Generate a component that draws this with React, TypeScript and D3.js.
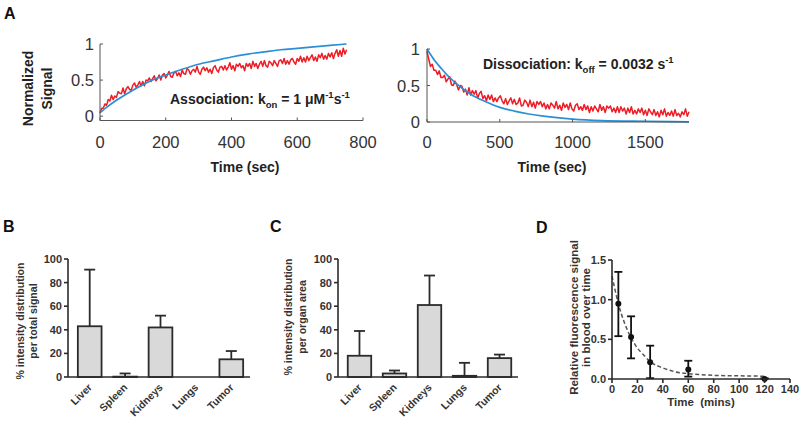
import React from "react";
import * as d3 from "d3";

const FONT = "'Liberation Sans', Arial, Helvetica, sans-serif";

// ---------- Panel A: association ----------
const assocTicksX = [0, 200, 400, 600, 800];
const assocTicksY = [0, 0.5, 1];
const assocStep = 5; // seconds between samples
const assocRed = [
  0.04, 0.11, 0.11, 0.17, 0.15,
  0.23, 0.21, 0.29, 0.23, 0.28,
  0.26, 0.34, 0.32, 0.31, 0.39,
  0.31, 0.38, 0.41, 0.37, 0.36,
  0.43, 0.46, 0.40, 0.43, 0.48,
  0.42, 0.48, 0.42, 0.50, 0.49,
  0.53, 0.48, 0.52, 0.56, 0.49,
  0.52, 0.57, 0.50, 0.57, 0.59,
  0.53, 0.57, 0.62, 0.55, 0.54,
  0.60, 0.62, 0.56, 0.60, 0.55,
  0.64, 0.59, 0.58, 0.66, 0.64,
  0.58, 0.63, 0.65, 0.61, 0.69,
  0.61, 0.58, 0.65, 0.68, 0.63,
  0.67, 0.61, 0.65, 0.59, 0.67,
  0.70, 0.64, 0.61, 0.68, 0.69,
  0.64, 0.70, 0.64, 0.68, 0.74,
  0.65, 0.70, 0.63, 0.72, 0.69,
  0.73, 0.67, 0.70, 0.63, 0.73,
  0.69, 0.73, 0.66, 0.76, 0.69,
  0.73, 0.66, 0.72, 0.76, 0.69,
  0.77, 0.70, 0.68, 0.76, 0.74,
  0.70, 0.77, 0.73, 0.69, 0.77,
  0.78, 0.73, 0.80, 0.72, 0.77,
  0.72, 0.78, 0.80, 0.75, 0.72,
  0.80, 0.76, 0.83, 0.75, 0.81,
  0.75, 0.83, 0.77, 0.81, 0.85,
  0.77, 0.82, 0.76, 0.85, 0.81,
  0.87, 0.79, 0.84, 0.79, 0.87,
  0.82, 0.88, 0.80, 0.87, 0.92,
  0.83, 0.91, 0.83, 0.94, 0.86,
  0.92,
];
const assocFit: [number, number][] = [
  [0, 0.05], [25, 0.14], [50, 0.22], [100, 0.36], [150, 0.48], [200, 0.57],
  [250, 0.65], [300, 0.72], [350, 0.77], [400, 0.82], [450, 0.86], [500, 0.89],
  [550, 0.92], [600, 0.94], [650, 0.96], [700, 0.98], [750, 1.0],
];

// ---------- Panel A: dissociation ----------
const dissocTicksX = [0, 500, 1000, 1500];
const dissocTicksY = [0, 0.5, 1];
const dissocStep = 12;
const dissocRed = [
  0.97, 0.86, 0.76, 0.79, 0.71,
  0.71, 0.65, 0.70, 0.61, 0.61,
  0.64, 0.55, 0.59, 0.62, 0.51,
  0.50, 0.56, 0.51, 0.44, 0.50,
  0.49, 0.41, 0.45, 0.37, 0.47,
  0.37, 0.43, 0.38, 0.43, 0.33,
  0.39, 0.42, 0.32, 0.36, 0.29,
  0.37, 0.31, 0.37, 0.28, 0.33,
  0.28, 0.33, 0.36, 0.29, 0.25,
  0.32, 0.24, 0.29, 0.33, 0.25,
  0.31, 0.24, 0.26, 0.33, 0.22,
  0.23, 0.30, 0.27, 0.21, 0.30,
  0.21, 0.27, 0.19, 0.28, 0.24,
  0.28, 0.21, 0.26, 0.18, 0.24,
  0.18, 0.26, 0.23, 0.19, 0.28,
  0.18, 0.23, 0.16, 0.26, 0.20,
  0.24, 0.17, 0.26, 0.18, 0.15,
  0.23, 0.25, 0.17, 0.21, 0.16,
  0.24, 0.17, 0.22, 0.13, 0.21,
  0.15, 0.22, 0.18, 0.14, 0.24,
  0.16, 0.21, 0.13, 0.22, 0.19,
  0.22, 0.14, 0.19, 0.13, 0.21,
  0.13, 0.21, 0.15, 0.19, 0.11,
  0.19, 0.13, 0.21, 0.11, 0.16,
  0.11, 0.18, 0.13, 0.19, 0.10,
  0.16, 0.09, 0.18, 0.14, 0.10,
  0.17, 0.09, 0.14, 0.07, 0.16,
  0.10, 0.18, 0.08, 0.13, 0.09,
  0.15, 0.08, 0.17, 0.09, 0.12,
  0.07, 0.14, 0.10, 0.18, 0.08,
  0.14,
];
const dissocFit: [number, number][] = [
  [0, 1.0], [50, 0.85], [100, 0.73], [150, 0.62], [200, 0.53], [300, 0.38],
  [400, 0.28], [500, 0.2], [600, 0.15], [700, 0.11], [800, 0.08], [1000, 0.04],
  [1200, 0.02], [1500, 0.01], [1800, 0.003],
];

// ---------- Panels B, C ----------
const organs = ["Liver", "Spleen", "Kidneys", "Lungs", "Tumor"];
const totalSignalMean = [43, 0.3, 42, 0, 15];
const totalSignalUpper = [91, 3, 52, 0, 22];
const organAreaMean = [18, 3, 61, 1, 16];
const organAreaUpper = [39, 5.5, 86, 12, 19];
const barTicks = [0, 20, 40, 60, 80, 100];

// ---------- Panel D ----------
const bloodTime = [5, 15, 30, 60, 120];
const bloodMean = [0.95, 0.53, 0.21, 0.12, 0.0];
const bloodLow = [0.54, 0.26, 0.01, 0.03, 0.0];
const bloodHigh = [1.35, 0.79, 0.42, 0.23, 0.01];
const bloodFit: [number, number][] = [
  [0, 1.3], [5, 0.95], [10, 0.7], [15, 0.52], [20, 0.39], [25, 0.3], [30, 0.22],
  [40, 0.14], [50, 0.09], [60, 0.068], [70, 0.055], [80, 0.046], [100, 0.04], [120, 0.035],
];
const bloodTicksX = [0, 20, 40, 60, 80, 100, 120, 140];
const bloodTicksY = [0, 0.5, 1.0, 1.5];

const RED = "#ee1c25";
const BLUE = "#2b8fd6";
const AX = "#555";
const TXT = "#333";

function KineticPanel(props: {
  xs: d3.ScaleLinear<number, number>;
  ys: d3.ScaleLinear<number, number>;
  xTicks: number[];
  yTicks: number[];
  red: number[];
  step: number;
  fit: [number, number][];
  yLabelX: number;
}) {
  const { xs, ys, xTicks, yTicks, red, step, fit, yLabelX } = props;
  const [x0, x1] = xs.range();
  const [yb, yt] = ys.range();
  const redLine = d3
    .line<number>()
    .x((_, i) => xs(i * step))
    .y((v) => ys(v));
  const fitLine = d3
    .line<[number, number]>()
    .x((d) => xs(d[0]))
    .y((d) => ys(d[1]))
    .curve(d3.curveMonotoneX);
  return (
    <g>
      <path d={redLine(red) || ""} fill="none" stroke={RED} strokeWidth={1.5} strokeLinejoin="round" />
      <path d={fitLine(fit) || ""} fill="none" stroke={BLUE} strokeWidth={1.7} />
      <line x1={x0} x2={x1} y1={yb} y2={yb} stroke={AX} strokeWidth={1} />
      <line x1={x0} x2={x0} y1={yb} y2={yt} stroke={AX} strokeWidth={1} />
      {xTicks.map((t) => (
        <g key={"x" + t}>
          <line x1={xs(t)} x2={xs(t)} y1={yb} y2={yb - 3} stroke={AX} />
          <text x={xs(t)} y={148} textAnchor="middle" fontSize={16.5} fill={TXT}>
            {t}
          </text>
        </g>
      ))}
      {yTicks.map((t) => (
        <g key={"y" + t}>
          <line x1={x0} x2={x0 + 3} y1={ys(t)} y2={ys(t)} stroke={AX} />
          <text x={yLabelX} y={ys(t) + 6} textAnchor="end" fontSize={16.5} fill={TXT}>
            {t}
          </text>
        </g>
      ))}
    </g>
  );
}

function BarPanel(props: {
  axisX: number;
  endX: number;
  means: number[];
  uppers: number[];
}) {
  const { axisX, endX, means, uppers } = props;
  const y = d3.scaleLinear([0, 100], [377, 259]);
  const x = d3
    .scaleBand<string>()
    .domain(organs)
    .range([axisX + 1, endX + 2])
    .paddingInner(0.33)
    .paddingOuter(0.25);
  const bw = x.bandwidth();
  return (
    <g>
      {organs.map((o, i) => {
        const cx = (x(o) as number) + bw / 2;
        const top = y(means[i]);
        const up = y(uppers[i]);
        return (
          <g key={o}>
            {uppers[i] > means[i] && (
              <g stroke="#2b2b2b" strokeWidth={1.8}>
                <line x1={cx} x2={cx} y1={top} y2={up} />
                <line x1={cx - 5.5} x2={cx + 5.5} y1={up} y2={up} />
              </g>
            )}
            <rect
              x={x(o)}
              y={top}
              width={bw}
              height={Math.max(0, y(0) - top)}
              fill="#d9d9d9"
              stroke="#2b2b2b"
              strokeWidth={1.8}
            />
            <text
              transform={`translate(${cx + 3},${388}) rotate(-45)`}
              textAnchor="end"
              fontSize={10.5}
              fontWeight="bold"
              fill={TXT}
            >
              {o}
            </text>
          </g>
        );
      })}
      <line x1={axisX} x2={endX} y1={y(0)} y2={y(0)} stroke="#2b2b2b" strokeWidth={1.6} />
      <line x1={axisX} x2={axisX} y1={y(0)} y2={y(100)} stroke="#2b2b2b" strokeWidth={1.6} />
      {barTicks.map((t) => (
        <g key={t}>
          <line x1={axisX - 4} x2={axisX} y1={y(t)} y2={y(t)} stroke="#2b2b2b" strokeWidth={1.6} />
          <text x={axisX - 6} y={y(t) + 4} textAnchor="end" fontSize={11} fontWeight="bold" fill={TXT}>
            {t}
          </text>
        </g>
      ))}
    </g>
  );
}

function BloodPanel() {
  const x = d3.scaleLinear([0, 140], [612, 790]);
  const y = d3.scaleLinear([0, 1.5], [379, 260]);
  const fitLine = d3
    .line<[number, number]>()
    .x((d) => x(d[0]))
    .y((d) => y(d[1]))
    .curve(d3.curveMonotoneX);
  return (
    <g>
      <path d={fitLine(bloodFit) || ""} fill="none" stroke="#555" strokeWidth={1.5} strokeDasharray="4,2.5" />
      {bloodTime.map((t, i) => (
        <g key={t} stroke="#111" strokeWidth={1.8}>
          <line x1={x(t)} x2={x(t)} y1={y(bloodLow[i])} y2={y(bloodHigh[i])} />
          <line x1={x(t) - 4} x2={x(t) + 4} y1={y(bloodLow[i])} y2={y(bloodLow[i])} />
          <line x1={x(t) - 4} x2={x(t) + 4} y1={y(bloodHigh[i])} y2={y(bloodHigh[i])} />
          <circle cx={x(t)} cy={y(bloodMean[i])} r={3} fill="#111" stroke="none" />
        </g>
      ))}
      <line x1={612} x2={790} y1={y(0)} y2={y(0)} stroke="#2b2b2b" strokeWidth={1.6} />
      <line x1={612} x2={612} y1={y(0)} y2={y(1.5)} stroke="#2b2b2b" strokeWidth={1.6} />
      {bloodTicksX.map((t) => (
        <g key={"x" + t}>
          <line x1={x(t)} x2={x(t)} y1={y(0)} y2={y(0) + 4} stroke="#2b2b2b" strokeWidth={1.6} />
          <text x={x(t)} y={393} textAnchor="middle" fontSize={11} fontWeight="bold" fill={TXT}>
            {t}
          </text>
        </g>
      ))}
      {bloodTicksY.map((t) => (
        <g key={"y" + t}>
          <line x1={608} x2={612} y1={y(t)} y2={y(t)} stroke="#2b2b2b" strokeWidth={1.6} />
          <text x={606} y={y(t) + 4} textAnchor="end" fontSize={11} fontWeight="bold" fill={TXT}>
            {t.toFixed(1)}
          </text>
        </g>
      ))}
    </g>
  );
}

export default function App() {
  const xAssoc = d3.scaleLinear([0, 800], [100, 363]);
  const yAssoc = d3.scaleLinear([-0.06, 1], [120.5, 44]);
  const xDiss = d3.scaleLinear([0, 1800], [427, 689]);
  const yDiss = d3.scaleLinear([0, 1], [122, 49]);
  return (
    <svg
      width={800}
      height={423}
      viewBox="0 0 800 423"
      style={{ position: "absolute", left: 0, top: 0, background: "#fff" }}
      fontFamily={FONT}
    >
      <rect width={800} height={423} fill="#fff" />
      {/* Panel A */}
      <text x={4} y={19} fontSize={16} fontWeight="bold" fill="#111">A</text>
      <KineticPanel xs={xAssoc} ys={yAssoc} xTicks={assocTicksX} yTicks={assocTicksY}
        red={assocRed} step={assocStep} fit={assocFit} yLabelX={94} />
      <KineticPanel xs={xDiss} ys={yDiss} xTicks={dissocTicksX} yTicks={dissocTicksY}
        red={dissocRed} step={dissocStep} fit={dissocFit} yLabelX={420} />
      <g fontWeight="bold" fontSize={14} fill="#222">
        <text transform="translate(33,88.5) rotate(-90)" textAnchor="middle">Normalized</text>
        <text transform="translate(52,88.5) rotate(-90)" textAnchor="middle">Signal</text>
        <text x={245} y={172} textAnchor="middle">Time (sec)</text>
        <text x={552} y={172} textAnchor="middle">Time (sec)</text>
        <text x={170} y={104}>
          Association: k
          <tspan fontSize={9.5} dy={4}>on</tspan>
          <tspan dy={-4}> = 1 μM</tspan>
          <tspan fontSize={9.5} dy={-6}>-1</tspan>
          <tspan dy={6}>s</tspan>
          <tspan fontSize={9.5} dy={-6}>-1</tspan>
        </text>
        <text x={483} y={69}>
          Dissociation: k
          <tspan fontSize={9.5} dy={4}>off</tspan>
          <tspan dy={-4}> = 0.0032 s</tspan>
          <tspan fontSize={9.5} dy={-6}>-1</tspan>
        </text>
      </g>

      {/* Panel B */}
      <text x={3} y={232} fontSize={16} fontWeight="bold" fill="#111">B</text>
      <BarPanel axisX={68} endX={250} means={totalSignalMean} uppers={totalSignalUpper} />
      <g fontWeight="bold" fontSize={10.6} fill={TXT}>
        <text transform="translate(24,321) rotate(-90)" textAnchor="middle">% intensity distribution</text>
        <text transform="translate(37,321) rotate(-90)" textAnchor="middle">per total signal</text>
      </g>

      {/* Panel C */}
      <text x={270} y={232} fontSize={16} fontWeight="bold" fill="#111">C</text>
      <BarPanel axisX={338} endX={518} means={organAreaMean} uppers={organAreaUpper} />
      <g fontWeight="bold" fontSize={10.6} fill={TXT}>
        <text transform="translate(292,317) rotate(-90)" textAnchor="middle">% intensity distribution</text>
        <text transform="translate(305.5,317) rotate(-90)" textAnchor="middle">per organ area</text>
      </g>

      {/* Panel D */}
      <text x={536} y={233} fontSize={16} fontWeight="bold" fill="#111">D</text>
      <BloodPanel />
      <g fontWeight="bold" fontSize={11.5} fill={TXT}>
        <text transform="translate(577.5,317.5) rotate(-90)" textAnchor="middle">Relative fluorescence signal</text>
        <text transform="translate(590,317.5) rotate(-90)" textAnchor="middle">in blood over time</text>
        <text x={701} y={406} textAnchor="middle" xmlSpace="preserve">Time  (mins)</text>
      </g>
    </svg>
  );
}
